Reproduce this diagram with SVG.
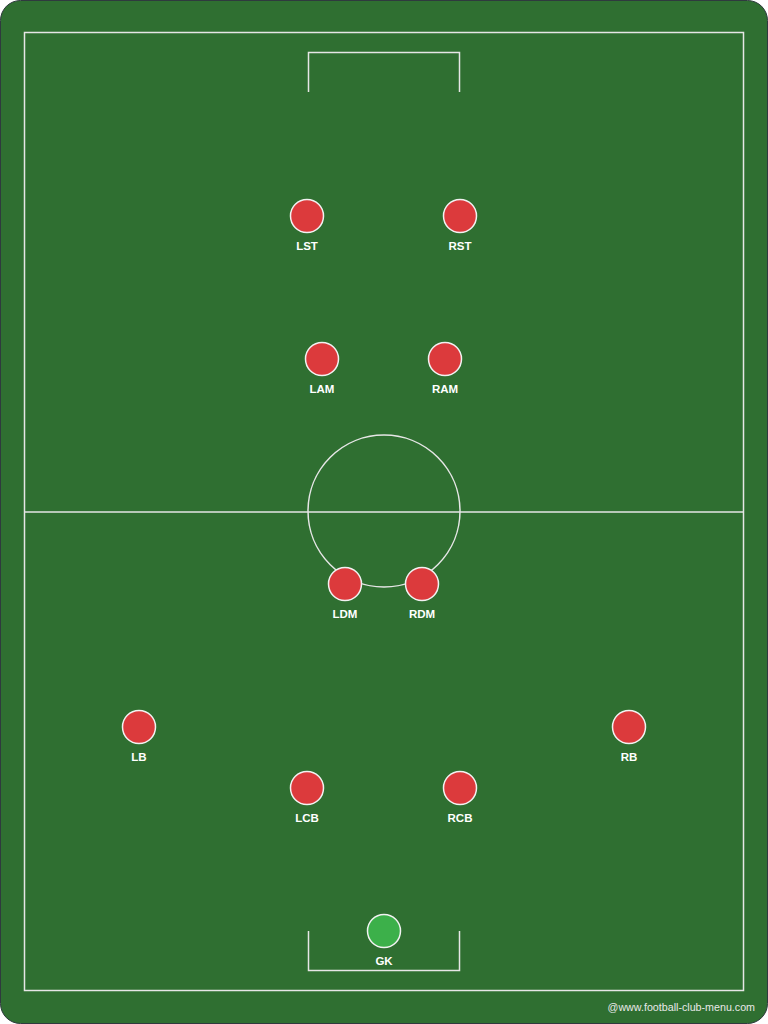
<svg xmlns="http://www.w3.org/2000/svg" width="768" height="1024" viewBox="0 0 768 1024">
<style>
.line{fill:none;stroke:#e6e6e6;stroke-width:1.5}
.p{fill:#dc3a3c;stroke:#f2f2f2;stroke-width:1.5}
.gk{fill:#3cb04a;stroke:#f2f2f2;stroke-width:1.5}
.lbl{font-family:"Liberation Sans",Arial,sans-serif;font-size:11.5px;font-weight:bold;fill:#ffffff;text-anchor:middle}
.credit{font-family:"Liberation Sans",Arial,sans-serif;font-size:10.7px;fill:#e8e8e8;text-anchor:end}
</style>
<rect x="0.5" y="0.5" width="767" height="1023" rx="20" ry="20" fill="#2f6f31" stroke="#2f3a3e" stroke-width="1"/>
<g id="pitch">
<rect class="line" x="24.5" y="32.5" width="719" height="958"/>
<line class="line" x1="24.5" y1="512" x2="743.5" y2="512"/>
<circle class="line" cx="384" cy="511" r="76"/>
<polyline class="line" points="308.5,92 308.5,52.5 459.5,52.5 459.5,92"/>
<polyline class="line" points="308.5,931 308.5,970.5 459.5,970.5 459.5,931"/>
</g>
<g id="LST"><circle class="p" cx="307" cy="216" r="16.5"/><text class="lbl" x="307" y="249.5">LST</text></g>
<g id="RST"><circle class="p" cx="460" cy="216" r="16.5"/><text class="lbl" x="460" y="249.5">RST</text></g>
<g id="LAM"><circle class="p" cx="322" cy="359" r="16.5"/><text class="lbl" x="322" y="392.5">LAM</text></g>
<g id="RAM"><circle class="p" cx="445" cy="359" r="16.5"/><text class="lbl" x="445" y="392.5">RAM</text></g>
<g id="LDM"><circle class="p" cx="345" cy="584" r="16.5"/><text class="lbl" x="345" y="617.5">LDM</text></g>
<g id="RDM"><circle class="p" cx="422" cy="584" r="16.5"/><text class="lbl" x="422" y="617.5">RDM</text></g>
<g id="LB"><circle class="p" cx="139" cy="727" r="16.5"/><text class="lbl" x="139" y="760.5">LB</text></g>
<g id="RB"><circle class="p" cx="629" cy="727" r="16.5"/><text class="lbl" x="629" y="760.5">RB</text></g>
<g id="LCB"><circle class="p" cx="307" cy="788" r="16.5"/><text class="lbl" x="307" y="821.5">LCB</text></g>
<g id="RCB"><circle class="p" cx="460" cy="788" r="16.5"/><text class="lbl" x="460" y="821.5">RCB</text></g>
<g id="GK"><circle class="gk" cx="384" cy="931" r="16.5"/><text class="lbl" x="384" y="964.5">GK</text></g>
<g id="connectors"></g>
<text class="credit" x="755" y="1011">@www.football-club-menu.com</text>
</svg>
